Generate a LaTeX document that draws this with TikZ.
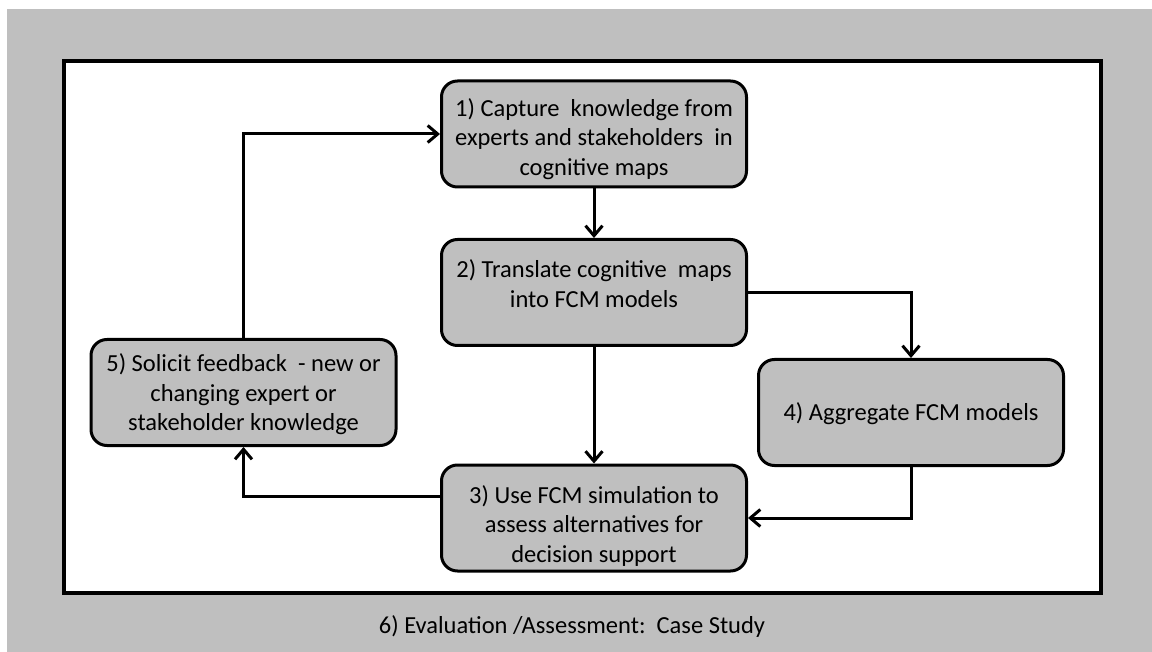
\documentclass[tikz,border=0pt]{standalone}
\usepackage{fontspec}
\setmainfont{Carlito}
\usetikzlibrary{arrows.meta,calc}
\definecolor{boxgray}{RGB}{191,191,191}
% centred lines, moved vertically by #1 inside a box of unchanged size
\newcommand\movedlines[2]{\raisebox{#1}[\height][\depth]{\begin{tabular}{@{}c@{}}#2\end{tabular}}}
\begin{document}
\begin{tikzpicture}[x=1pt,y=-1pt,
  stepbox/.style={draw=black, line width=3pt, fill=boxgray, rounded corners=16pt,
    minimum width=305pt, minimum height=106pt, inner sep=0pt,
    font=\fontsize{24.5}{29.5}\selectfont},
  arr/.style={line width=3pt, -{Straight Barb[length=10pt,width=17pt]}}]
  % page and grey surround
  \useasboundingbox (0,0) rectangle (1152,652);
  \fill[white] (0,0) rectangle (1152,652);
  \fill[boxgray] (7,9) rectangle (1152,652);
  \draw[line width=3.5pt, fill=white] (64,61) rectangle (1101,593);

  % process steps
  \node[stepbox] (s1) at (594,134) {\movedlines{-6pt}{1) Capture\ \ knowledge from\\experts and stakeholders\ \ in\\cognitive maps}};
  \node[stepbox] (s2) at (594,292.5) {\movedlines{6pt}{2) Translate cognitive\ \ maps\\into FCM models}};
  \node[stepbox] (s3) at (594,518) {\movedlines{-9pt}{3) Use FCM simulation to\\assess alternatives for\\decision support}};
  \node[stepbox] (s4) at (911,412.5) {\movedlines{-2pt}{4) Aggregate FCM models}};
  \node[stepbox] (s5) at (243.5,392.5) {\movedlines{-3pt}{5) Solicit feedback\ \ - new or\\changing expert or\\stakeholder knowledge}};

  \node[font=\fontsize{24.5}{29.5}\selectfont] (cap) at (572,627) {6) Evaluation /Assessment:\ \ Case Study};

  % connectors
  \coordinate (s3out) at ($(s3.north west)!0.3!(s3.south west)$);
  \draw[arr] (s1.south) -- (s2.north);
  \draw[arr] (s2.south) -- (s3.north);
  \draw[arr] (s2.east) -| (s4.north);
  \draw[arr] (s4.south) |- (s3.east);
  \draw[arr] (s3out) -| (s5.south);
  \draw[arr] (s5.north) |- (s1.west);
\end{tikzpicture}
\end{document}
